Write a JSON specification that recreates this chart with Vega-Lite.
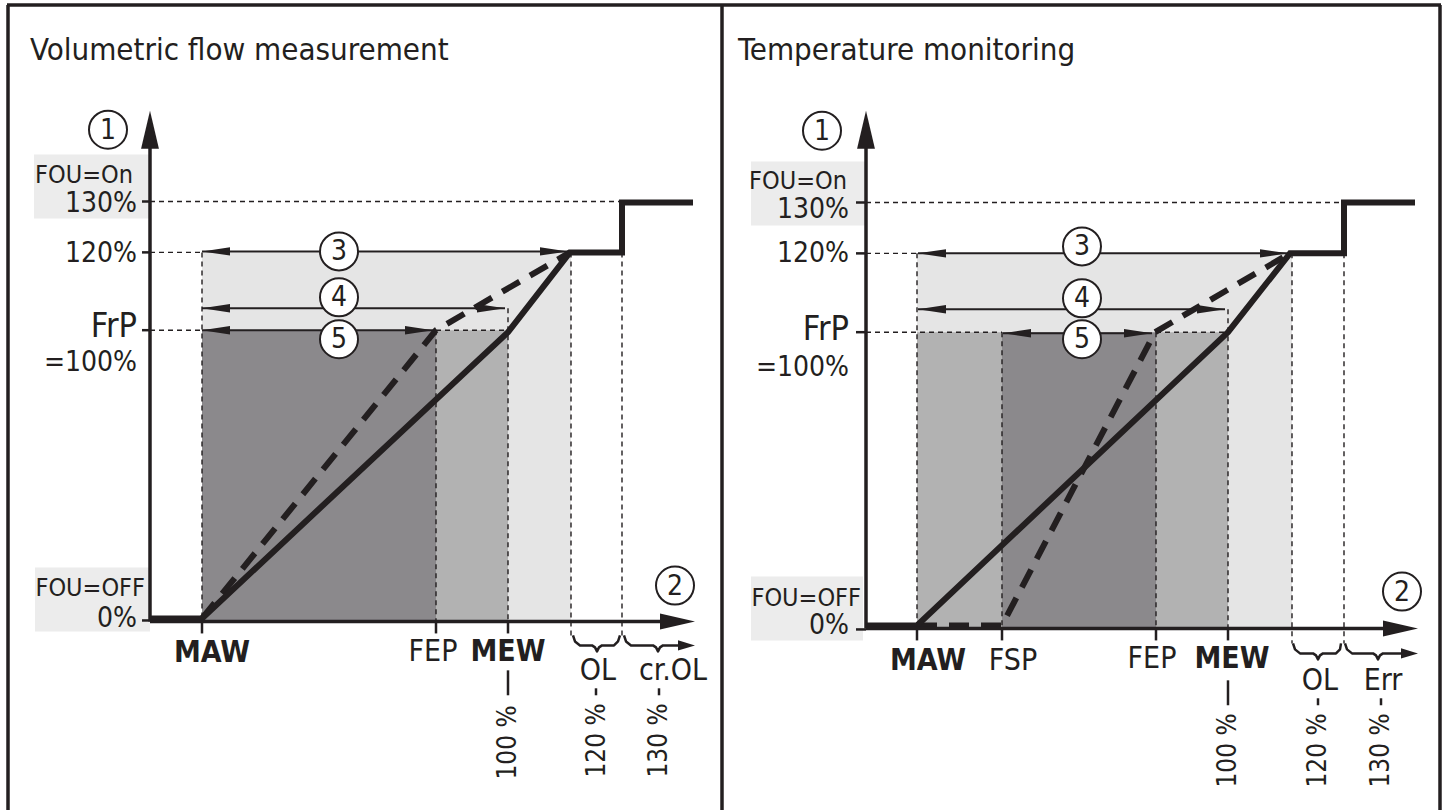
{
  "$schema": "https://vega.github.io/schema/vega-lite/v6.json",
  "width": 1447,
  "height": 812,
  "autosize": {"type": "fit", "contains": "padding"},
  "padding": 0,
  "background": "white",
  "config": {"view": {"stroke": null}},
  "datasets": {
    "regions": [
      {"x": 202, "x2": 571, "y": 253, "y2": 623, "shade": "light"},
      {"x": 202, "x2": 436, "y": 331, "y2": 623, "shade": "dark"},
      {"x": 436, "x2": 508, "y": 331, "y2": 623, "shade": "medium"},
      {"x": 34, "x2": 149, "y": 155, "y2": 219, "shade": "box"},
      {"x": 35, "x2": 150, "y": 569, "y2": 633, "shade": "box"},
      {"x": 917, "x2": 1292, "y": 254, "y2": 630, "shade": "light"},
      {"x": 917, "x2": 1002, "y": 333, "y2": 630, "shade": "medium"},
      {"x": 1002, "x2": 1156, "y": 333, "y2": 630, "shade": "dark"},
      {"x": 1156, "x2": 1228, "y": 333, "y2": 630, "shade": "medium"},
      {"x": 751, "x2": 865, "y": 162, "y2": 226, "shade": "box"},
      {"x": 751, "x2": 863, "y": 578, "y2": 642, "shade": "box"}
    ],
    "segments": [
      {"kind": "guide", "x": 150, "y": 202, "x2": 622, "y2": 202},
      {"kind": "guide", "x": 150, "y": 253, "x2": 202, "y2": 253},
      {"kind": "guide", "x": 150, "y": 331, "x2": 202, "y2": 331},
      {"kind": "guide", "x": 436, "y": 331, "x2": 508, "y2": 331},
      {"kind": "guide", "x": 202, "y": 253, "x2": 202, "y2": 623},
      {"kind": "guide", "x": 436, "y": 331, "x2": 436, "y2": 623},
      {"kind": "guide", "x": 508, "y": 309, "x2": 508, "y2": 623},
      {"kind": "guide", "x": 571, "y": 253, "x2": 571, "y2": 637},
      {"kind": "guide", "x": 622, "y": 253, "x2": 622, "y2": 637},
      {"kind": "guide", "x": 866, "y": 203, "x2": 1344, "y2": 203},
      {"kind": "guide", "x": 866, "y": 254, "x2": 917, "y2": 254},
      {"kind": "guide", "x": 866, "y": 333, "x2": 1002, "y2": 333},
      {"kind": "guide", "x": 1156, "y": 333, "x2": 1228, "y2": 333},
      {"kind": "guide", "x": 917, "y": 254, "x2": 917, "y2": 630},
      {"kind": "guide", "x": 1002, "y": 333, "x2": 1002, "y2": 630},
      {"kind": "guide", "x": 1156, "y": 333, "x2": 1156, "y2": 630},
      {"kind": "guide", "x": 1228, "y": 310, "x2": 1228, "y2": 630},
      {"kind": "guide", "x": 1292, "y": 254, "x2": 1292, "y2": 645},
      {"kind": "guide", "x": 1344, "y": 254, "x2": 1344, "y2": 645},
      {"kind": "tick", "x": 202, "y": 623, "x2": 202, "y2": 635},
      {"kind": "tick", "x": 436, "y": 623, "x2": 436, "y2": 635},
      {"kind": "tick", "x": 508, "y": 623, "x2": 508, "y2": 635},
      {"kind": "tick", "x": 142, "y": 202, "x2": 150, "y2": 202},
      {"kind": "tick", "x": 142, "y": 253, "x2": 150, "y2": 253},
      {"kind": "tick", "x": 142, "y": 331, "x2": 150, "y2": 331},
      {"kind": "tick", "x": 142, "y": 622, "x2": 150, "y2": 622},
      {"kind": "tick", "x": 508, "y": 672, "x2": 508, "y2": 697},
      {"kind": "tick", "x": 596, "y": 690, "x2": 596, "y2": 697},
      {"kind": "tick", "x": 659, "y": 690, "x2": 659, "y2": 697},
      {"kind": "tick", "x": 917, "y": 630, "x2": 917, "y2": 642},
      {"kind": "tick", "x": 1002, "y": 630, "x2": 1002, "y2": 642},
      {"kind": "tick", "x": 1156, "y": 630, "x2": 1156, "y2": 642},
      {"kind": "tick", "x": 1228, "y": 630, "x2": 1228, "y2": 642},
      {"kind": "tick", "x": 856, "y": 203, "x2": 866, "y2": 203},
      {"kind": "tick", "x": 856, "y": 254, "x2": 866, "y2": 254},
      {"kind": "tick", "x": 856, "y": 333, "x2": 866, "y2": 333},
      {"kind": "tick", "x": 856, "y": 631, "x2": 866, "y2": 631},
      {"kind": "tick", "x": 1228, "y": 682, "x2": 1228, "y2": 707},
      {"kind": "tick", "x": 1318, "y": 700, "x2": 1318, "y2": 707},
      {"kind": "tick", "x": 1381, "y": 700, "x2": 1381, "y2": 707},
      {"kind": "axis", "x": 150, "y": 623, "x2": 150, "y2": 145},
      {"kind": "axis", "x": 150, "y": 623, "x2": 665, "y2": 623},
      {"kind": "axis", "x": 866, "y": 630, "x2": 866, "y2": 145},
      {"kind": "axis", "x": 866, "y": 630, "x2": 1385, "y2": 630},
      {"kind": "dim", "x": 202, "y": 252, "x2": 568, "y2": 252},
      {"kind": "dim", "x": 202, "y": 309, "x2": 505, "y2": 309},
      {"kind": "dim", "x": 202, "y": 331, "x2": 433, "y2": 331},
      {"kind": "dim", "x": 918, "y": 254, "x2": 1288, "y2": 254},
      {"kind": "dim", "x": 918, "y": 310, "x2": 1225, "y2": 310},
      {"kind": "dim", "x": 1003, "y": 334, "x2": 1152, "y2": 334},
      {"kind": "frame", "x": 7, "y": 5, "x2": 1441, "y2": 5},
      {"kind": "frame", "x": 8, "y": 5, "x2": 8, "y2": 812},
      {"kind": "frame", "x": 722, "y": 5, "x2": 722, "y2": 812},
      {"kind": "frame", "x": 1440, "y": 5, "x2": 1440, "y2": 812}
    ],
    "curves": [
      {"id": "L1", "style": "solid", "i": 0, "x": 150, "y": 620},
      {"id": "L1", "style": "solid", "i": 1, "x": 202, "y": 620},
      {"id": "L1", "style": "solid", "i": 2, "x": 508, "y": 333},
      {"id": "L1", "style": "solid", "i": 3, "x": 570, "y": 253},
      {"id": "L1", "style": "solid", "i": 4, "x": 622, "y": 253},
      {"id": "L1", "style": "solid", "i": 5, "x": 622, "y": 203},
      {"id": "L1", "style": "solid", "i": 6, "x": 693, "y": 203},
      {"id": "L2", "style": "dashed", "i": 0, "x": 202, "y": 620},
      {"id": "L2", "style": "dashed", "i": 1, "x": 436, "y": 331},
      {"id": "L2", "style": "dashed", "i": 2, "x": 570, "y": 253},
      {"id": "R1", "style": "solid", "i": 0, "x": 866, "y": 627},
      {"id": "R1", "style": "solid", "i": 1, "x": 917, "y": 627},
      {"id": "R1", "style": "solid", "i": 2, "x": 1228, "y": 333},
      {"id": "R1", "style": "solid", "i": 3, "x": 1290, "y": 254},
      {"id": "R1", "style": "solid", "i": 4, "x": 1344, "y": 254},
      {"id": "R1", "style": "solid", "i": 5, "x": 1344, "y": 203},
      {"id": "R1", "style": "solid", "i": 6, "x": 1415, "y": 203},
      {"id": "R2", "style": "dashed", "i": 0, "x": 917, "y": 627},
      {"id": "R2", "style": "dashed", "i": 1, "x": 1002, "y": 627},
      {"id": "R2", "style": "dashed", "i": 2, "x": 1155, "y": 333},
      {"id": "R2", "style": "dashed", "i": 3, "x": 1290, "y": 254},
      {"id": "LB1", "style": "brace", "i": 0, "x": 573, "y": 637},
      {"id": "LB1", "style": "brace", "i": 1, "x": 575, "y": 643},
      {"id": "LB1", "style": "brace", "i": 2, "x": 580, "y": 647},
      {"id": "LB1", "style": "brace", "i": 3, "x": 592, "y": 647},
      {"id": "LB1", "style": "brace", "i": 4, "x": 595, "y": 649},
      {"id": "LB1", "style": "brace", "i": 5, "x": 597, "y": 653},
      {"id": "LB1", "style": "brace", "i": 6, "x": 599, "y": 649},
      {"id": "LB1", "style": "brace", "i": 7, "x": 602, "y": 647},
      {"id": "LB1", "style": "brace", "i": 8, "x": 614, "y": 647},
      {"id": "LB1", "style": "brace", "i": 9, "x": 618, "y": 643},
      {"id": "LB1", "style": "brace", "i": 10, "x": 620, "y": 637},
      {"id": "LB2", "style": "brace", "i": 0, "x": 624, "y": 637},
      {"id": "LB2", "style": "brace", "i": 1, "x": 626, "y": 643},
      {"id": "LB2", "style": "brace", "i": 2, "x": 631, "y": 647},
      {"id": "LB2", "style": "brace", "i": 3, "x": 653, "y": 647},
      {"id": "LB2", "style": "brace", "i": 4, "x": 656, "y": 649},
      {"id": "LB2", "style": "brace", "i": 5, "x": 658, "y": 653},
      {"id": "LB2", "style": "brace", "i": 6, "x": 660, "y": 649},
      {"id": "LB2", "style": "brace", "i": 7, "x": 663, "y": 647},
      {"id": "LB2", "style": "brace", "i": 8, "x": 685, "y": 647},
      {"id": "RB1", "style": "brace", "i": 0, "x": 1293, "y": 645},
      {"id": "RB1", "style": "brace", "i": 1, "x": 1295, "y": 651},
      {"id": "RB1", "style": "brace", "i": 2, "x": 1300, "y": 655},
      {"id": "RB1", "style": "brace", "i": 3, "x": 1313, "y": 655},
      {"id": "RB1", "style": "brace", "i": 4, "x": 1316, "y": 657},
      {"id": "RB1", "style": "brace", "i": 5, "x": 1318, "y": 661},
      {"id": "RB1", "style": "brace", "i": 6, "x": 1320, "y": 657},
      {"id": "RB1", "style": "brace", "i": 7, "x": 1323, "y": 655},
      {"id": "RB1", "style": "brace", "i": 8, "x": 1336, "y": 655},
      {"id": "RB1", "style": "brace", "i": 9, "x": 1340, "y": 651},
      {"id": "RB1", "style": "brace", "i": 10, "x": 1341, "y": 645},
      {"id": "RB2", "style": "brace", "i": 0, "x": 1345, "y": 645},
      {"id": "RB2", "style": "brace", "i": 1, "x": 1347, "y": 651},
      {"id": "RB2", "style": "brace", "i": 2, "x": 1352, "y": 655},
      {"id": "RB2", "style": "brace", "i": 3, "x": 1373, "y": 655},
      {"id": "RB2", "style": "brace", "i": 4, "x": 1376, "y": 657},
      {"id": "RB2", "style": "brace", "i": 5, "x": 1378, "y": 661},
      {"id": "RB2", "style": "brace", "i": 6, "x": 1380, "y": 657},
      {"id": "RB2", "style": "brace", "i": 7, "x": 1383, "y": 655},
      {"id": "RB2", "style": "brace", "i": 8, "x": 1405, "y": 655}
    ],
    "heads": [
      {"head": "axisUp", "x": 150, "y": 111},
      {"head": "axisUp", "x": 866, "y": 111},
      {"head": "axisRight", "x": 695, "y": 623},
      {"head": "axisRight", "x": 1418, "y": 630},
      {"head": "dimLeft", "x": 202, "y": 252},
      {"head": "dimLeft", "x": 202, "y": 309},
      {"head": "dimLeft", "x": 202, "y": 331},
      {"head": "dimLeft", "x": 918, "y": 254},
      {"head": "dimLeft", "x": 918, "y": 310},
      {"head": "dimLeft", "x": 1003, "y": 334},
      {"head": "dimRight", "x": 568, "y": 252},
      {"head": "dimRight", "x": 505, "y": 309},
      {"head": "dimRight", "x": 433, "y": 331},
      {"head": "dimRight", "x": 1288, "y": 254},
      {"head": "dimRight", "x": 1225, "y": 310},
      {"head": "dimRight", "x": 1152, "y": 334},
      {"head": "braceRight", "x": 695, "y": 647},
      {"head": "braceRight", "x": 1418, "y": 655}
    ],
    "circles": [
      {"n": "1", "x": 108, "y": 130},
      {"n": "3", "x": 339, "y": 252},
      {"n": "4", "x": 339, "y": 298},
      {"n": "5", "x": 339, "y": 340},
      {"n": "2", "x": 675, "y": 587},
      {"n": "1", "x": 822, "y": 131},
      {"n": "3", "x": 1082, "y": 247},
      {"n": "4", "x": 1082, "y": 299},
      {"n": "5", "x": 1082, "y": 340},
      {"n": "2", "x": 1402, "y": 593}
    ],
    "labels": [
      {"role": "title", "text": "Volumetric flow measurement", "x": 30, "y": 60},
      {"role": "title", "text": "Temperature monitoring", "x": 738, "y": 60},
      {"role": "fou", "text": "FOU=On", "x": 133, "y": 183},
      {"role": "fou", "text": "FOU=OFF", "x": 145, "y": 597},
      {"role": "fou", "text": "FOU=On", "x": 847, "y": 189},
      {"role": "fou", "text": "FOU=OFF", "x": 861, "y": 607},
      {"role": "ylab", "text": "130%", "x": 137, "y": 213},
      {"role": "ylab", "text": "120%", "x": 137, "y": 263},
      {"role": "frp", "text": "FrP", "x": 137, "y": 338},
      {"role": "ylab", "text": "=100%", "x": 137, "y": 372},
      {"role": "ylab", "text": "0%", "x": 137, "y": 629},
      {"role": "ylab", "text": "130%", "x": 849, "y": 219},
      {"role": "ylab", "text": "120%", "x": 849, "y": 263},
      {"role": "frp", "text": "FrP", "x": 849, "y": 341},
      {"role": "ylab", "text": "=100%", "x": 849, "y": 377},
      {"role": "ylab", "text": "0%", "x": 849, "y": 636},
      {"role": "xlab", "text": "FEP", "x": 433, "y": 663},
      {"role": "xlab", "text": "OL", "x": 598, "y": 682},
      {"role": "xlab", "text": "cr.OL", "x": 673, "y": 682},
      {"role": "xlab", "text": "FSP", "x": 1013, "y": 672},
      {"role": "xlab", "text": "FEP", "x": 1152, "y": 670},
      {"role": "xlab", "text": "OL", "x": 1320, "y": 692},
      {"role": "xlab", "text": "Err", "x": 1383, "y": 692},
      {"role": "xbold", "text": "MAW", "x": 212, "y": 664},
      {"role": "xbold", "text": "MEW", "x": 508, "y": 663},
      {"role": "xbold", "text": "MAW", "x": 928, "y": 672},
      {"role": "xbold", "text": "MEW", "x": 1232, "y": 670},
      {"role": "rot", "text": "100 %", "x": 508, "y": 707},
      {"role": "rot", "text": "120 %", "x": 597, "y": 705},
      {"role": "rot", "text": "130 %", "x": 659, "y": 705},
      {"role": "rot", "text": "100 %", "x": 1228, "y": 715},
      {"role": "rot", "text": "120 %", "x": 1318, "y": 715},
      {"role": "rot", "text": "130 %", "x": 1381, "y": 715}
    ]
  },
  "encoding": {
    "x": {"field": "x", "type": "quantitative", "scale": {"domain": [0, 1447], "nice": false, "zero": false}, "axis": null},
    "y": {"field": "y", "type": "quantitative", "scale": {"domain": [0, 812], "reverse": true, "nice": false, "zero": false}, "axis": null}
  },
  "layer": [
    {
      "data": {"name": "regions"},
      "mark": {"type": "rect", "strokeWidth": 0},
      "encoding": {
        "x2": {"field": "x2"},
        "y2": {"field": "y2"},
        "color": {"field": "shade", "type": "nominal", "legend": null,
          "scale": {"domain": ["light", "medium", "dark", "box"], "range": ["#e5e5e5", "#b2b2b2", "#8b898c", "#ececec"]}}
      }
    },
    {
      "data": {"name": "segments"},
      "transform": [{"filter": "datum.kind === 'guide'"}],
      "mark": {"type": "rule", "color": "#231f20", "strokeWidth": 1.4, "strokeDash": [5, 4]},
      "encoding": {"x2": {"field": "x2"}, "y2": {"field": "y2"}}
    },
    {
      "data": {"name": "curves"},
      "transform": [{"filter": "datum.style === 'dashed'"}],
      "mark": {"type": "line", "color": "#231f20", "strokeWidth": 6, "strokeDash": [20, 12], "strokeCap": "butt"},
      "encoding": {"detail": {"field": "id"}, "order": {"field": "i", "type": "quantitative"}}
    },
    {
      "data": {"name": "curves"},
      "transform": [{"filter": "datum.style === 'solid'"}],
      "mark": {"type": "line", "color": "#231f20", "strokeWidth": 6, "strokeJoin": "miter", "strokeCap": "butt"},
      "encoding": {"detail": {"field": "id"}, "order": {"field": "i", "type": "quantitative"}}
    },
    {
      "data": {"name": "curves"},
      "transform": [{"filter": "datum.style === 'brace'"}],
      "mark": {"type": "line", "color": "#231f20", "strokeWidth": 2.5, "strokeJoin": "round", "strokeCap": "butt"},
      "encoding": {"detail": {"field": "id"}, "order": {"field": "i", "type": "quantitative"}}
    },
    {
      "data": {"name": "segments"},
      "transform": [{"filter": "datum.kind === 'tick'"}],
      "mark": {"type": "rule", "color": "#231f20", "strokeWidth": 2.5},
      "encoding": {"x2": {"field": "x2"}, "y2": {"field": "y2"}}
    },
    {
      "data": {"name": "segments"},
      "transform": [{"filter": "datum.kind === 'dim'"}],
      "mark": {"type": "rule", "color": "#231f20", "strokeWidth": 2},
      "encoding": {"x2": {"field": "x2"}, "y2": {"field": "y2"}}
    },
    {
      "data": {"name": "segments"},
      "transform": [{"filter": "datum.kind === 'axis'"}],
      "mark": {"type": "rule", "color": "#231f20", "strokeWidth": 3.5},
      "encoding": {"x2": {"field": "x2"}, "y2": {"field": "y2"}}
    },
    {
      "data": {"name": "segments"},
      "transform": [{"filter": "datum.kind === 'frame'"}],
      "mark": {"type": "rule", "color": "#231f20", "strokeWidth": 3.5},
      "encoding": {"x2": {"field": "x2"}, "y2": {"field": "y2"}}
    },
    {
      "data": {"name": "heads"},
      "transform": [{"filter": "datum.head === 'axisUp'"}],
      "mark": {"type": "point", "shape": "M0,0 L-0.47,2 L0.47,2 Z", "size": 1444, "filled": true, "color": "#231f20", "opacity": 1, "strokeWidth": 0}
    },
    {
      "data": {"name": "heads"},
      "transform": [{"filter": "datum.head === 'axisRight'"}],
      "mark": {"type": "point", "shape": "M0,0 L-2,-0.46 L-2,0.46 Z", "size": 1225, "filled": true, "color": "#231f20", "opacity": 1, "strokeWidth": 0}
    },
    {
      "data": {"name": "heads"},
      "transform": [{"filter": "datum.head === 'dimLeft'"}],
      "mark": {"type": "point", "shape": "M0,0 L2,-0.3 L2,0.3 Z", "size": 784, "filled": true, "color": "#231f20", "opacity": 1, "strokeWidth": 0}
    },
    {
      "data": {"name": "heads"},
      "transform": [{"filter": "datum.head === 'dimRight'"}],
      "mark": {"type": "point", "shape": "M0,0 L-2,-0.3 L-2,0.3 Z", "size": 784, "filled": true, "color": "#231f20", "opacity": 1, "strokeWidth": 0}
    },
    {
      "data": {"name": "heads"},
      "transform": [{"filter": "datum.head === 'braceRight'"}],
      "mark": {"type": "point", "shape": "M0,0 L-2,-0.6 L-2,0.6 Z", "size": 289, "filled": true, "color": "#231f20", "opacity": 1, "strokeWidth": 0}
    },
    {
      "data": {"name": "circles"},
      "mark": {"type": "point", "shape": "circle", "size": 1444, "filled": false, "fill": "white", "fillOpacity": 1, "stroke": "#231f20", "strokeWidth": 2, "opacity": 1}
    },
    {
      "data": {"name": "circles"},
      "mark": {"type": "text", "font": "'DejaVu Sans Condensed', 'Liberation Sans', sans-serif", "fontSize": 28, "align": "center", "baseline": "middle", "dy": 1, "color": "#231f20"},
      "encoding": {"text": {"field": "n"}}
    },
    {
      "data": {"name": "labels"},
      "transform": [{"filter": "datum.role === 'title'"}],
      "mark": {"type": "text", "font": "'DejaVu Sans Condensed', 'Liberation Sans', sans-serif", "fontSize": 31, "align": "left", "baseline": "alphabetic", "color": "#231f20"},
      "encoding": {"text": {"field": "text"}}
    },
    {
      "data": {"name": "labels"},
      "transform": [{"filter": "datum.role === 'fou'"}],
      "mark": {"type": "text", "font": "'DejaVu Sans Condensed', 'Liberation Sans', sans-serif", "fontSize": 25, "align": "right", "baseline": "alphabetic", "color": "#231f20"},
      "encoding": {"text": {"field": "text"}}
    },
    {
      "data": {"name": "labels"},
      "transform": [{"filter": "datum.role === 'ylab'"}],
      "mark": {"type": "text", "font": "'DejaVu Sans Condensed', 'Liberation Sans', sans-serif", "fontSize": 28, "align": "right", "baseline": "alphabetic", "color": "#231f20"},
      "encoding": {"text": {"field": "text"}}
    },
    {
      "data": {"name": "labels"},
      "transform": [{"filter": "datum.role === 'frp'"}],
      "mark": {"type": "text", "font": "'DejaVu Sans Condensed', 'Liberation Sans', sans-serif", "fontSize": 34, "align": "right", "baseline": "alphabetic", "color": "#231f20"},
      "encoding": {"text": {"field": "text"}}
    },
    {
      "data": {"name": "labels"},
      "transform": [{"filter": "datum.role === 'xlab'"}],
      "mark": {"type": "text", "font": "'DejaVu Sans Condensed', 'Liberation Sans', sans-serif", "fontSize": 30, "align": "center", "baseline": "alphabetic", "color": "#231f20"},
      "encoding": {"text": {"field": "text"}}
    },
    {
      "data": {"name": "labels"},
      "transform": [{"filter": "datum.role === 'xbold'"}],
      "mark": {"type": "text", "font": "'DejaVu Sans Condensed', 'Liberation Sans', sans-serif", "fontSize": 30, "fontWeight": "bold", "align": "center", "baseline": "alphabetic", "color": "#231f20"},
      "encoding": {"text": {"field": "text"}}
    },
    {
      "data": {"name": "labels"},
      "transform": [{"filter": "datum.role === 'rot'"}],
      "mark": {"type": "text", "font": "'DejaVu Sans Condensed', 'Liberation Sans', sans-serif", "fontSize": 26, "angle": 270, "align": "right", "baseline": "middle", "color": "#231f20"},
      "encoding": {"text": {"field": "text"}}
    }
  ]
}
